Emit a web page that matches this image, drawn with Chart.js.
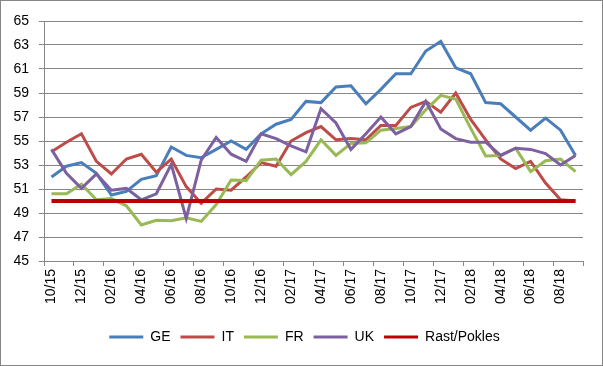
<!DOCTYPE html>
<html>
<head>
<meta charset="utf-8">
<script src="https://cdn.jsdelivr.net/npm/chart.js@4.4.1/dist/chart.umd.min.js"></script>
<style>
html, body { margin: 0; padding: 0; background: #fff; }
#wrap { width: 603px; height: 366px; position: relative; }
</style>
</head>
<body>
<div id="wrap"><canvas id="graphCanvas" width="603" height="366"></canvas></div>
<script>
var months = ['10/15','11/15','12/15','01/16','02/16','03/16','04/16','05/16','06/16','07/16','08/16','09/16',
              '10/16','11/16','12/16','01/17','02/17','03/17','04/17','05/17','06/17','07/17','08/17','09/17',
              '10/17','11/17','12/17','01/18','02/18','03/18','04/18','05/18','06/18','07/18','08/18','09/18'];

var ge = [52.0, 52.9, 53.2, 52.3, 50.5, 50.8, 51.8, 52.1, 54.5, 53.8, 53.6, 54.3,
          55.0, 54.3, 55.6, 56.4, 56.8, 58.3, 58.2, 59.5, 59.6, 58.1, 59.3, 60.6,
          60.6, 62.5, 63.3, 61.1, 60.6, 58.2, 58.1, 57.0, 55.9, 56.9, 55.9, 53.8];
var it = [54.1, 54.9, 55.6, 53.3, 52.25, 53.5, 53.9, 52.4, 53.5, 51.2, 49.8, 51.0,
          50.9, 52.0, 53.2, 52.9, 55.0, 55.7, 56.2, 55.1, 55.2, 55.1, 56.3, 56.3,
          57.8, 58.3, 57.4, 59.0, 56.8, 55.1, 53.5, 52.7, 53.3, 51.5, 50.1, 50.0];
var fr = [50.6, 50.6, 51.4, 50.1, 50.2, 49.6, 48.0, 48.4, 48.35, 48.6, 48.3, 49.7,
          51.75, 51.7, 53.4, 53.5, 52.2, 53.3, 55.1, 53.8, 54.8, 54.85, 55.9, 56.05,
          56.2, 57.6, 58.8, 58.5, 56.05, 53.75, 53.8, 54.4, 52.45, 53.35, 53.5, 52.45];
var uk = [54.3, 52.3, 51.05, 52.25, 50.9, 51.05, 50.1, 50.6, 53.05, 48.55, 53.4, 55.3,
          53.9, 53.3, 55.6, 55.2, 54.6, 54.1, 57.7, 56.5, 54.3, 55.6, 57.0, 55.6,
          56.2, 58.3, 56.0, 55.2, 54.9, 54.9, 53.8, 54.4, 54.3, 53.95, 53.0, 53.8];
var rastPokles = months.map(function () { return 50; });

var gridColor = '#868686';
var font = { family: "'Liberation Sans', Arial, sans-serif", size: 14 };

function line(label, data, color, width, order) {
    return {
        label: label,
        data: data,
        borderColor: color,
        backgroundColor: color,
        borderWidth: width,
        pointRadius: 0,
        tension: 0,
        fill: false,
        order: order
    };
}

var frame = {
    id: 'frame',
    afterDraw: function (chart) {
        var ctx = chart.ctx;
        ctx.save();
        ctx.strokeStyle = gridColor;
        ctx.lineWidth = 1;
        ctx.strokeRect(0.5, 0.5, 602, 365);
        ctx.restore();
    }
};

var chartdata = {
    labels: months,
    datasets: [
        line('GE', ge, '#4A7EBB', 3, 5),
        line('IT', it, '#BE4B48', 3, 4),
        line('FR', fr, '#98B954', 3, 3),
        line('UK', uk, '#7D60A0', 3, 2),
        line('Rast/Pokles', rastPokles, '#C00000', 4, 1)
    ]
};

var graphTarget = document.getElementById('graphCanvas');

var lineGraph = new Chart(graphTarget, {
    type: 'line',
    data: chartdata,
    plugins: [frame],
    options: {
        responsive: false,
        animation: false,
        devicePixelRatio: 1,
        layout: { padding: { top: 21, right: 0, left: 6, bottom: 12 } },
        plugins: {
            tooltip: { enabled: false },
            legend: {
                position: 'bottom',
                labels: {
                    boxWidth: 34,
                    boxHeight: 3,
                    padding: 10,
                    color: '#000',
                    font: font,
                    generateLabels: function (chart) {
                        return chart.data.datasets.map(function (d, i) {
                            return {
                                text: d.label,
                                fillStyle: d.borderColor,
                                strokeStyle: d.borderColor,
                                lineWidth: 0,
                                fontColor: '#000',
                                hidden: false,
                                datasetIndex: i
                            };
                        });
                    }
                }
            }
        },
        scales: {
            x: {
                offset: true,
                grid: {
                    offset: true,
                    drawOnChartArea: false,
                    drawTicks: true,
                    tickLength: 5,
                    color: function (c) {
                        return (c.index === undefined || c.index % 2 === 0) ? gridColor : 'rgba(0,0,0,0)';
                    }
                },
                border: { color: gridColor, width: 1 },
                ticks: {
                    autoSkip: false,
                    minRotation: 90,
                    maxRotation: 90,
                    padding: 3,
                    color: '#000',
                    font: font,
                    callback: function (v, i) {
                        return i % 2 === 0 ? this.getLabelForValue(v) : '';
                    }
                },
                afterFit: function (s) { s.height = 59; }
            },
            y: {
                min: 45,
                max: 65,
                grid: { color: gridColor, tickLength: 5, lineWidth: 1 },
                border: { color: gridColor, width: 1 },
                ticks: { stepSize: 2, padding: 10, color: '#000', font: font },
                afterFit: function (s) { s.width = 38; }
            },
            spacer: {
                position: 'right',
                display: true,
                grid: { display: false },
                border: { display: false },
                ticks: { display: false },
                afterFit: function (s) { s.width = 20; }
            }
        }
    }
});
</script>
</body>
</html>
